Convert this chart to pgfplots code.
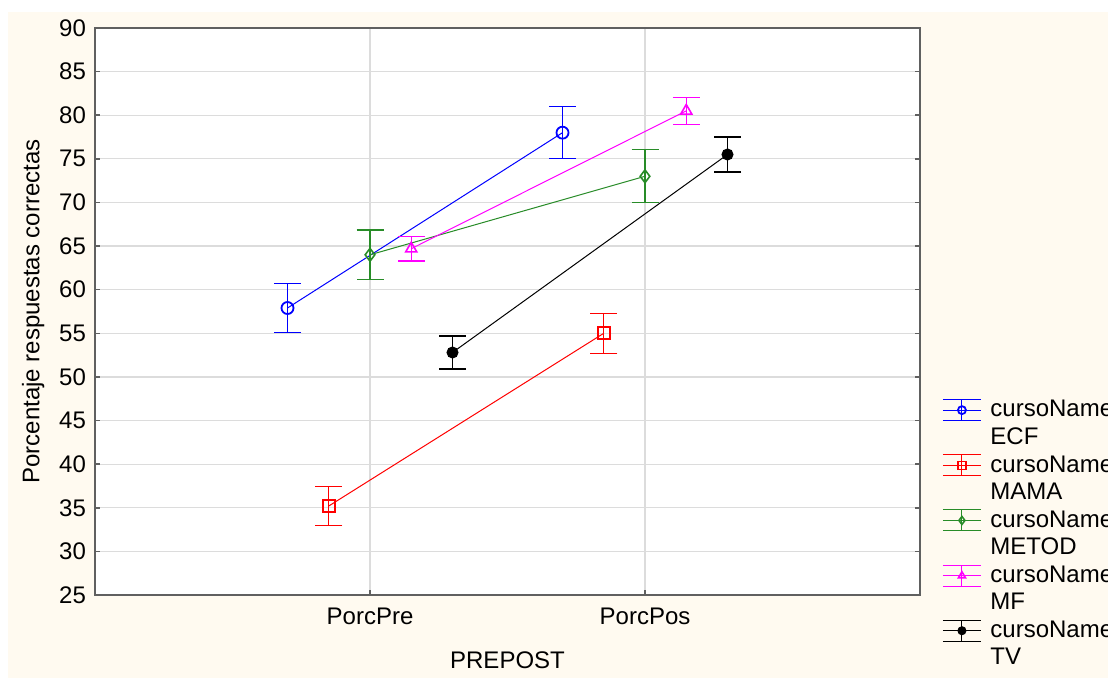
\documentclass[border=0pt]{standalone}
\usepackage{fontspec}
\setmainfont{Liberation Sans}
\usepackage{pgfplots}
\pgfplotsset{compat=1.18}
\definecolor{cream}{RGB}{255,250,240}
\definecolor{framegray}{RGB}{96,96,96}
\definecolor{gridgray}{RGB}{220,220,220}
\definecolor{mgreen}{RGB}{40,140,40}
\definecolor{mmag}{RGB}{255,0,255}
\begin{document}
\begin{tikzpicture}
\useasboundingbox (0,0) rectangle (554pt,339pt);
\fill[cream] (4pt,0) rectangle (554pt,333pt);
\begin{axis}[
  at={(47.5pt,41.5pt)}, anchor=south west,
  width=412.5pt, height=283.5pt, scale only axis,
  axis background/.style={fill=white},
  xmin=-1, xmax=2, ymin=25, ymax=90,
  xtick={0,1}, xticklabels={PorcPre,PorcPos},
  ytick={25,30,...,90},
  grid=major, major grid style={gridgray, line width=0.6pt},
  tick align=inside, xtick pos=bottom, ytick pos=both,
  major tick length=2.5pt, tick style={framegray, line width=0.75pt},
  axis line style={framegray, line width=1pt},
  tick label style={font=\fontsize{12}{14}\selectfont},
  /pgf/number format/assume math mode=true,
  yticklabel style={xshift=-1pt},
  xticklabel style={yshift=-3pt},
  xlabel={PREPOST}, ylabel={Porcentaje respuestas correctas},
  label style={font=\fontsize{12}{14}\selectfont},
  xlabel style={at={(axis description cs:0.5,-0.115)}, anchor=center},
  ylabel style={at={(axis description cs:-0.075,0.5)}, anchor=center},
  legend style={draw=none, fill=none, at={(1.0267,0.351)}, anchor=north west,
    inner sep=0pt, font=\fontsize{12}{14}\selectfont, row sep=0pt,
    /tikz/every odd column/.append style={column sep=2.5pt}},
  legend cell align=left,
  legend image code/.code={
    \draw[#1,mark=none] (0pt,5.25pt) -- (19pt,5.25pt);
    \draw[#1,mark=none] (0pt,-5.25pt) -- (19pt,-5.25pt);
    \draw[#1,mark=none] (9.5pt,-5.25pt) -- (9.5pt,5.25pt);
    \draw[mark repeat=2,mark phase=2,#1,mark size=2pt] plot coordinates {(0pt,0pt) (9.5pt,0pt) (19pt,0pt)};
  },
  every axis plot/.append style={line width=0.5pt},
  ebar/.style={
    error bars/y dir=both, error bars/y explicit,
    error bars/error bar style={line width=0.6pt},
    error bars/error mark options={rotate=90, mark size=6.75pt, line width=0.6pt}},
]
\addplot[blue, mark=o, mark size=3pt, mark options={solid, line width=0.9pt}, ebar]
  coordinates {(-0.3,57.9) +- (0,2.85) (0.7,78.0) +- (0,3.0)};
\addlegendentry{cursoName}
\addlegendimage{empty legend}\addlegendentry{ECF}
\addplot[red, mark=square, mark size=3pt, mark options={solid, line width=0.9pt}, ebar]
  coordinates {(-0.15,35.2) +- (0,2.2) (0.85,55.0) +- (0,2.3)};
\addlegendentry{cursoName}
\addlegendimage{empty legend}\addlegendentry{MAMA}
\addplot[mgreen, mark=diamond, mark size=3.2pt, mark options={solid, line width=0.8pt}, ebar]
  coordinates {(0,64.0) +- (0,2.85) (1,73.0) +- (0,3.05)};
\addlegendentry{cursoName}
\addlegendimage{empty legend}\addlegendentry{METOD}
\addplot[mmag, mark=triangle, mark size=3.2pt, mark options={solid, line width=0.8pt}, ebar]
  coordinates {(0.15,64.7) +- (0,1.4) (1.15,80.5) +- (0,1.55)};
\addlegendentry{cursoName}
\addlegendimage{empty legend}\addlegendentry{MF}
\addplot[black, mark=*, mark size=2.75pt, mark options={solid}, ebar]
  coordinates {(0.3,52.8) +- (0,1.9) (1.3,75.5) +- (0,2.0)};
\addlegendentry{cursoName}
\addlegendimage{empty legend}\addlegendentry{TV}
\end{axis}
\end{tikzpicture}
\end{document}
